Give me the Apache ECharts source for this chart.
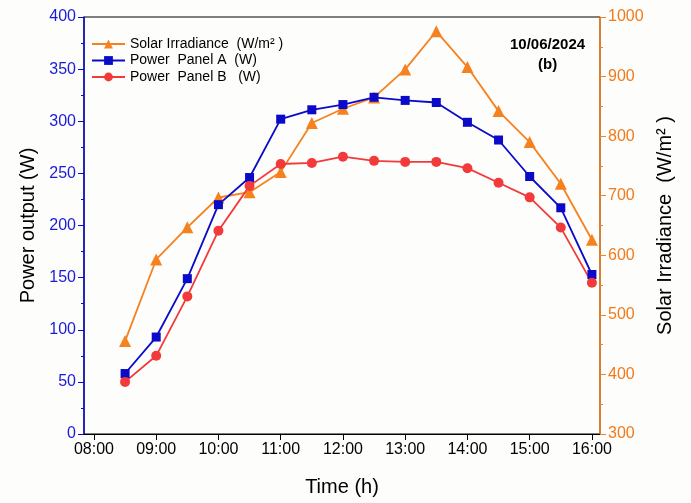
<!DOCTYPE html>
<html>
<head>
<meta charset="utf-8">
<script src="https://cdn.jsdelivr.net/npm/echarts@6/dist/echarts.min.js"></script>
<style>
html,body{margin:0;padding:0;background:#fdfdfb;}
#chart{width:691px;height:503px;}
</style>
</head>
<body>
<div id="chart"></div>
<script>
var times = ["08:30","09:00","09:30","10:00","10:30","11:00","11:30","12:00","12:30","13:00","13:30","14:00","14:30","15:00","15:30","16:00"];
var irradiance = [456, 593, 647, 697, 706, 740, 822, 846, 865, 912, 976, 916, 842, 790, 720, 626];
var panelA = [58, 93, 149, 220, 246, 302, 311, 316, 323, 320, 318, 299, 282, 247, 217, 153];
var panelB = [50, 75, 132, 195, 238, 259, 260, 266, 262, 261, 261, 255, 241, 227, 198, 145];
var hourTicks = [8, 9, 10, 11, 12, 13, 14, 15, 16];

function toHour(t){var p=t.split(':');return +p[0] + (+p[1])/60;}
function pairs(vals){return times.map(function(t,i){return [toHour(t), vals[i]];});}
function fmtHour(v){var h=Math.round(v);return (h<10?'0':'')+h+':00';}

var FONT = 'Arial, "Liberation Sans", sans-serif';
var ORANGE = '#f5821f', BLUE = '#0a0ac8', RED = '#f23a3a';
var LBLUE = '#1b1bd6', LORANGE = '#f27a1a';

var chart = echarts.init(document.getElementById('chart'));
chart.setOption({
  backgroundColor: '#fdfdfb',
  animation: false,
  textStyle: {fontFamily: FONT},
  grid: {left: 84, right: 91, top: 17, bottom: 69, show: true, borderColor: '#000', borderWidth: 1, backgroundColor: 'transparent'},
  legend: {
    orient: 'vertical', left: 86, top: 32, itemWidth: 33, itemHeight: 11, itemGap: 2.5,
    textStyle: {fontSize: 14, color: '#000', fontFamily: FONT},
    data: ['Solar Irradiance  (W/m\u00b2 )', 'Power  Panel A  (W)', 'Power  Panel B   (W)']
  },
  graphic: [
    {type: 'text', left: 549 - 39, top: 37, style: {text: '10/06/2024', font: 'bold 15px ' + FONT, fill: '#000'}},
    {type: 'text', left: 538, top: 57, style: {text: '(b)', font: 'bold 15px ' + FONT, fill: '#000'}}
  ],
  xAxis: {
    type: 'value', min: 7.84, max: 16.13,
    name: 'Time (h)', nameLocation: 'middle', nameGap: 43,
    nameTextStyle: {fontSize: 20, color: '#000', fontFamily: FONT},
    axisLine: {show: true, lineStyle: {color: '#000', width: 1}},
    axisTick: {show: true, inside: false, length: 6, customValues: hourTicks, lineStyle: {color: '#000'}},
    axisLabel: {customValues: hourTicks, formatter: fmtHour, fontSize: 16, color: '#000', margin: 8, fontFamily: FONT},
    splitLine: {show: false}
  },
  yAxis: [
    {
      type: 'value', min: 0, max: 400, interval: 50, position: 'left',
      name: 'Power output (W)', nameLocation: 'middle', nameGap: 46, nameRotate: 90,
      nameTextStyle: {fontSize: 20, color: '#000', fontFamily: FONT},
      axisLine: {show: true, lineStyle: {color: BLUE, width: 1.5}},
      axisTick: {show: true, inside: false, length: 6, lineStyle: {color: BLUE}},
      minorTick: {show: true, splitNumber: 2, length: 3, lineStyle: {color: BLUE}},
      axisLabel: {fontSize: 16, color: LBLUE, margin: 8, fontFamily: FONT, formatter: function(v){return String(v);}},
      splitLine: {show: false}
    },
    {
      type: 'value', min: 300, max: 1000, interval: 100, position: 'right',
      name: 'Solar Irradiance  (W/m\u00b2 )', nameLocation: 'middle', nameGap: 55, nameRotate: 90,
      nameTextStyle: {fontSize: 20, color: '#000', fontFamily: FONT},
      axisLine: {show: true, lineStyle: {color: ORANGE, width: 1.5}},
      axisTick: {show: true, inside: false, length: 6, lineStyle: {color: ORANGE}},
      minorTick: {show: true, splitNumber: 2, length: 3, lineStyle: {color: ORANGE}},
      axisLabel: {fontSize: 16, color: LORANGE, margin: 8, fontFamily: FONT, formatter: function(v){return String(v);}},
      splitLine: {show: false}
    }
  ],
  series: [
    {
      name: 'Solar Irradiance  (W/m\u00b2 )', type: 'line', yAxisIndex: 1, data: pairs(irradiance),
      symbol: 'triangle', symbolSize: 12, color: ORANGE,
      lineStyle: {color: ORANGE, width: 1.8}, itemStyle: {color: ORANGE}
    },
    {
      name: 'Power  Panel A  (W)', type: 'line', yAxisIndex: 0, data: pairs(panelA),
      symbol: 'rect', symbolSize: 9, color: BLUE,
      lineStyle: {color: BLUE, width: 1.8}, itemStyle: {color: BLUE}
    },
    {
      name: 'Power  Panel B   (W)', type: 'line', yAxisIndex: 0, data: pairs(panelB),
      symbol: 'circle', symbolSize: 10, color: RED,
      lineStyle: {color: RED, width: 1.8}, itemStyle: {color: RED}
    }
  ]
});
</script>
</body>
</html>
